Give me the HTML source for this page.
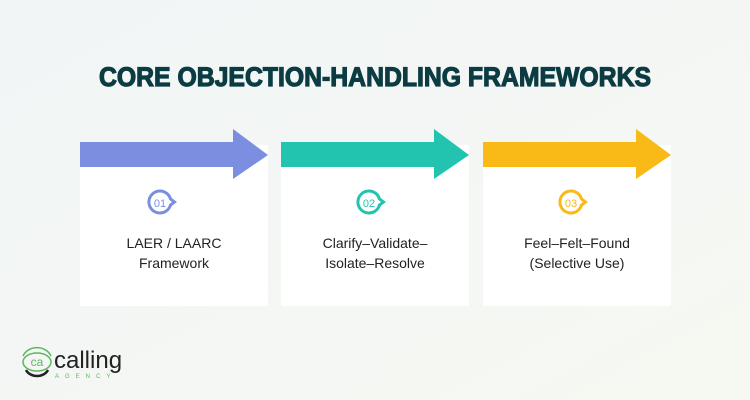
<!DOCTYPE html>
<html><head><meta charset="utf-8"><style>
html,body{margin:0;padding:0;width:750px;height:400px;overflow:hidden;background:#f3f6f4}
</style></head><body>
<svg width="750" height="400" xmlns="http://www.w3.org/2000/svg" font-family="Liberation Sans, sans-serif">
<defs><linearGradient id="bg" x1="0" y1="0" x2="1" y2="1"><stop offset="0" stop-color="#f1f5f6"/><stop offset="1" stop-color="#f6f8f2"/></linearGradient></defs>
<rect width="750" height="400" fill="url(#bg)"/>
<text x="375" y="86" text-anchor="middle" font-size="27" font-weight="bold" fill="#0c3c43" stroke="#0c3c43" stroke-width="1.2" textLength="552" lengthAdjust="spacingAndGlyphs">CORE OBJECTION-HANDLING FRAMEWORKS</text>
<g>
<rect x="80" y="145" width="188" height="161" fill="#fff"/>
<polygon points="80,142 233,142 233,129 268,155 233,179 233,167 80,167" fill="#7b8ee0"/>
<path d="M160,191 a11,11 0 1 0 10.5,14 l4,-3 l-4,-3 a11,11 0 0 0 -10.5,-8z" fill="none" stroke="#7b8ee0" stroke-width="3"/>
<text x="160" y="207" text-anchor="middle" font-size="11" fill="#7b8ee0">01</text>
<text x="174" y="248" text-anchor="middle" font-size="14" fill="#222">LAER / LAARC</text>
<text x="174" y="268" text-anchor="middle" font-size="14" fill="#222">Framework</text>
</g>
<g>
<rect x="281" y="145" width="188" height="161" fill="#fff"/>
<polygon points="281,142 434,142 434,129 469,155 434,179 434,167 281,167" fill="#22c4b0"/>
<path d="M369,191 a11,11 0 1 0 10.5,14 l4,-3 l-4,-3 a11,11 0 0 0 -10.5,-8z" fill="none" stroke="#22c4b0" stroke-width="3"/>
<text x="369" y="207" text-anchor="middle" font-size="11" fill="#22c4b0">02</text>
<text x="375" y="248" text-anchor="middle" font-size="14" fill="#222">Clarify–Validate–</text>
<text x="375" y="268" text-anchor="middle" font-size="14" fill="#222">Isolate–Resolve</text>
</g>
<g>
<rect x="483" y="145" width="188" height="161" fill="#fff"/>
<polygon points="483,142 636,142 636,129 671,155 636,179 636,167 483,167" fill="#f9b916"/>
<path d="M571,191 a11,11 0 1 0 10.5,14 l4,-3 l-4,-3 a11,11 0 0 0 -10.5,-8z" fill="none" stroke="#f9b916" stroke-width="3"/>
<text x="571" y="207" text-anchor="middle" font-size="11" fill="#f9b916">03</text>
<text x="577" y="248" text-anchor="middle" font-size="14" fill="#222">Feel–Felt–Found</text>
<text x="577" y="268" text-anchor="middle" font-size="14" fill="#222">(Selective Use)</text>
</g>
<g>
<path d="M23,356 a15,13 0 0 1 28,0" fill="none" stroke="#5cb85c" stroke-width="1.5"/>
<ellipse cx="37" cy="362" rx="14" ry="9" fill="none" stroke="#5cb85c" stroke-width="1.5"/>
<text x="37" y="366" text-anchor="middle" font-size="12" fill="#5cb85c">ca</text>
<path d="M26,370 a12,10 0 0 0 22,0" fill="none" stroke="#222" stroke-width="2.5"/>
<text x="54" y="368" font-size="24" fill="#222">calling</text>
<text x="55" y="378" font-size="6" fill="#5cb85c" letter-spacing="6">AGENCY</text>
</g>
</svg>
</body></html>
